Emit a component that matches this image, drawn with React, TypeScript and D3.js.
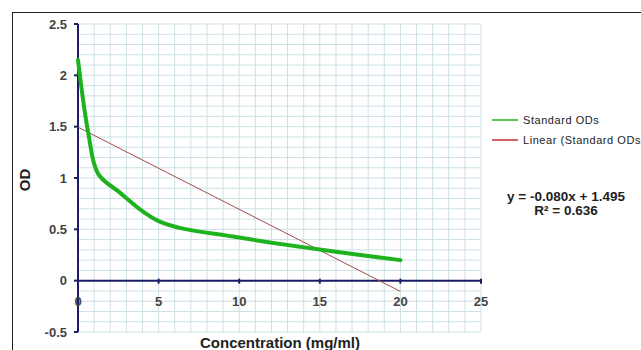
import React from 'react';
import * as d3 from 'd3';

// Standard curve readings (serial dilution)
const concentrations = [0, 0.625, 1.25, 2.5, 5, 10, 20];
const standardODs = [2.15, 1.45, 1.04, 0.87, 0.58, 0.42, 0.2];

// Excel linear trendline
const trendSlope = -0.08;
const trendIntercept = 1.495;
const trendR2 = 0.636;

const xTicks = [0, 5, 10, 15, 20, 25];
const yTicks = [-0.5, 0, 0.5, 1, 1.5, 2, 2.5];

const W = 641;
const H = 350;
const margin = { left: 78, top: 24, right: 160, bottom: 18 };

const App: React.FC = () => {
  const x = d3.scaleLinear().domain([0, 25]).range([margin.left, W - margin.right]);
  const y = d3.scaleLinear().domain([-0.5, 2.5]).range([H - margin.bottom, margin.top]);

  const vGrid = d3.range(0, 26, 1);
  const hGrid = d3.range(-5, 26, 1).map(d => d / 10);

  const pts: [number, number][] = concentrations.map((c, i) => [c, standardODs[i]]);
  const line = d3.line<[number, number]>()
    .x(d => x(d[0]))
    .y(d => y(d[1]))
    .curve(d3.curveCatmullRom.alpha(0.5));

  const xEnd = d3.max(concentrations)!;
  const font = 'Liberation Sans, Arial, sans-serif';
  const axisColor = '#1c1c66';

  return (
    <svg width={W} height={H} style={{ position: 'absolute', left: 0, top: 0, background: '#fff' }}>
      {/* chart frame */}
      <rect x={12.5} y={12.5} width={W + 20} height={H + 20} fill="none" stroke="#222" strokeWidth={1} />

      {/* grid */}
      <g stroke="#cde0e6" strokeWidth={1}>
        {vGrid.map(v => (
          <line key={'v' + v} x1={x(v)} x2={x(v)} y1={y(2.5)} y2={y(-0.5)} />
        ))}
        {hGrid.map(v => (
          <line key={'h' + v} x1={x(0)} x2={x(25)} y1={y(v)} y2={y(v)} />
        ))}
      </g>

      {/* axes */}
      <line x1={x(0)} x2={x(0)} y1={y(2.5)} y2={y(-0.5)} stroke={axisColor} strokeWidth={2} />
      <line x1={x(0)} x2={x(25)} y1={y(0)} y2={y(0)} stroke={axisColor} strokeWidth={2} />
      {yTicks.map(t => (
        <g key={'yt' + t}>
          <line x1={x(0) - 4} x2={x(0)} y1={y(t)} y2={y(t)} stroke={axisColor} strokeWidth={2} />
          <text x={x(0) - 11} y={y(t) + 4.5} textAnchor="end" fontFamily={font} fontSize={13}
            fontWeight="bold" fill="#444">{t}</text>
        </g>
      ))}
      {xTicks.map(t => (
        <g key={'xt' + t}>
          <line x1={x(t)} x2={x(t)} y1={y(0) - 2} y2={y(0) + 3} stroke={axisColor} strokeWidth={2} />
          <text x={x(t)} y={y(0) + 25} textAnchor="middle" fontFamily={font} fontSize={13}
            fontWeight="bold" fill="#444">{t}</text>
        </g>
      ))}

      {/* trendline */}
      <line x1={x(0)} y1={y(trendIntercept)} x2={x(xEnd)} y2={y(trendIntercept + trendSlope * xEnd)}
        stroke="#a0504a" strokeWidth={1} />

      {/* standard curve */}
      <path d={line(pts) ?? ''} fill="none" stroke="#1fb21f" strokeWidth={4} strokeLinecap="round" />

      {/* axis titles */}
      <text transform={`translate(30,${y(1) + 2}) rotate(-90)`} textAnchor="middle" fontFamily={font}
        fontSize={15} fontWeight="bold" fill="#222">OD</text>
      <text x={280} y={348} textAnchor="middle" fontFamily={font} fontSize={15} fontWeight="bold"
        fill="#222">Concentration (mg/ml)</text>

      {/* legend */}
      <line x1={492} x2={518} y1={120} y2={120} stroke="#1fb21f" strokeWidth={1.5} />
      <text x={523} y={124} fontFamily={font} fontSize={11} letterSpacing={0.55} fill="#222">Standard ODs</text>
      <line x1={492} x2={518} y1={140} y2={140} stroke="#c0303a" strokeWidth={1.5} />
      <text x={523} y={144} fontFamily={font} fontSize={11} letterSpacing={0.55} fill="#222">Linear (Standard ODs)</text>

      {/* equation */}
      <text x={566} y={201} textAnchor="middle" fontFamily={font} fontSize={13.5} fontWeight="bold"
        fill="#222">{`y = ${trendSlope.toFixed(3)}x  + ${trendIntercept.toFixed(3)}`}</text>
      <text x={566} y={215} textAnchor="middle" fontFamily={font} fontSize={13.5} fontWeight="bold"
        fill="#222">{`R² = ${trendR2.toFixed(3)}`}</text>
    </svg>
  );
};

export default App;
